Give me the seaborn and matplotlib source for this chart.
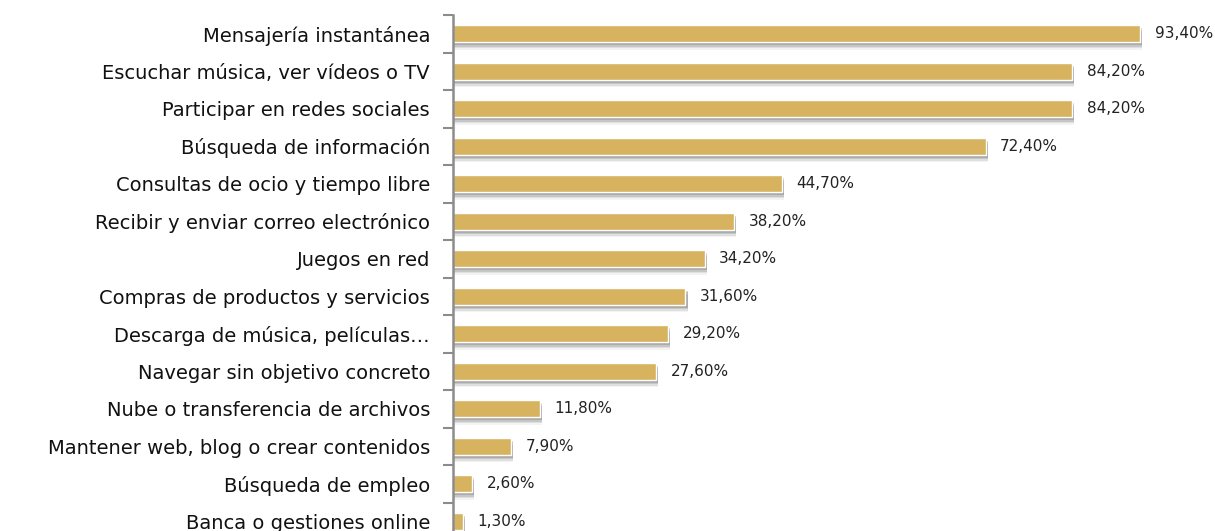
import numpy as np
import pandas as pd
import matplotlib
matplotlib.use("Agg")
import matplotlib.pyplot as plt
import seaborn as sns

# data
categories = [
    "Mensajería instantánea",
    "Escuchar música, ver vídeos o TV",
    "Participar en redes sociales",
    "Búsqueda de información",
    "Consultas de ocio y tiempo libre",
    "Recibir y enviar correo electrónico",
    "Juegos en red",
    "Compras de productos y servicios",
    "Descarga de música, películas…",
    "Navegar sin objetivo concreto",
    "Nube o transferencia de archivos",
    "Mantener web, blog o crear contenidos",
    "Búsqueda de empleo",
    "Banca o gestiones online",
]
values = [93.4, 84.2, 84.2, 72.4, 44.7, 38.2, 34.2, 31.6, 29.2, 27.6, 11.8, 7.9, 2.6, 1.3]
value_labels = ["93,40%", "84,20%", "84,20%", "72,40%", "44,70%", "38,20%", "34,20%",
                "31,60%", "29,20%", "27,60%", "11,80%", "7,90%", "2,60%", "1,30%"]

df = pd.DataFrame({"uso": categories, "pct": values})

sns.set_style("white")
plt.rcParams["font.family"] = ["DejaVu Sans"]

fig = plt.figure(figsize=(12.15, 5.31), dpi=100)
ax = fig.add_axes([453 / 1215, -9 / 531, 735.5 / 1215, 525 / 531])

bar_h = 0.45
n = len(categories)
pos = np.arange(n)

# soft drop shadow under each bar
for k, a in [(0.2, 0.08), (0.16, 0.15), (0.12, 0.22), (0.08, 0.3)]:
    ax.barh(pos + k, df["pct"] + 0.2, height=bar_h, left=0.1,
            color="#6e6e6e", alpha=a, linewidth=0, zorder=1)

sns.barplot(data=df, x="pct", y="uso", orient="h", color="#D7B25F",
            saturation=1, width=bar_h, ax=ax, zorder=2)

for p, lab, v in zip(pos, value_labels, values):
    ax.text(v + 2.0, p, lab, va="center", ha="left", fontsize=11, color="#222222")

ax.set_xlim(0, 100)
ax.set_ylim(n - 0.5, -0.5)
ax.set_xlabel("")
ax.set_ylabel("")
ax.set_xticks([])

ax.set_yticks(pos)
ax.set_yticklabels(categories, fontsize=14, color="#111111")
ax.tick_params(axis="y", which="major", length=0, pad=16.5)
ax.set_yticks(np.arange(-0.5, n, 1), minor=True)
ax.tick_params(axis="y", which="minor", left=True, length=7, width=1.5,
               color="#8c8c8c", direction="out")

for s in ["top", "right", "bottom"]:
    ax.spines[s].set_visible(False)
ax.spines["left"].set_color("#8c8c8c")
ax.spines["left"].set_linewidth(1.8)

fig.savefig("out.png", dpi=100)
